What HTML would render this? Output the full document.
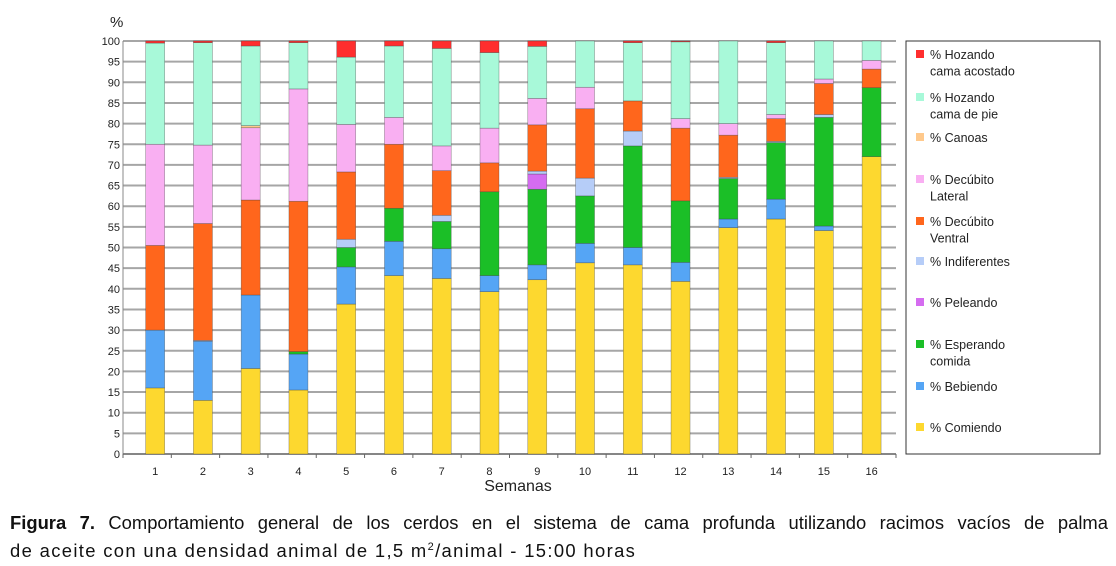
<!DOCTYPE html>
<html><head><meta charset="utf-8"><style>
body{margin:0;background:#fff;width:1116px;height:566px;overflow:hidden;font-family:"Liberation Sans",sans-serif}
.cap{position:absolute;left:10px;top:510px;width:1098px;font-size:18.4px;line-height:25px;color:#111}
.l1{text-align:justify;text-align-last:justify}
.l2{letter-spacing:1.35px}
</style></head><body>
<svg id="chart" width="1116" height="505" style="position:absolute;left:0;top:0" font-family="Liberation Sans, sans-serif"></svg>
<div class="cap"><div class="l1"><b>Figura 7.</b> Comportamiento general de los cerdos en el sistema de cama profunda utilizando racimos vacíos de palma</div><div class="l2">de aceite con una densidad animal de 1,5 m<sup style="font-size:11px">2</sup>/animal - 15:00 horas</div></div>
<script>
const categories=["1","2","3","4","5","6","7","8","9","10","11","12","13","14","15","16"];
const comiendo=[16,13,20.7,15.5,36.3,43.2,42.5,39.3,42.2,46.3,45.8,41.8,54.8,56.9,54.1,72];
const bebiendo=[14,14.3,17.8,8.7,9,8.3,7.2,3.9,3.6,4.7,4.2,4.6,2.1,4.8,1.1,0];
const esperando=[0,0,0,0.6,4.7,8,6.6,20.3,18.3,11.5,24.6,14.9,9.8,13.7,26.3,16.7];
const peleando=[0,0,0,0,0,0,0,0,3.7,0,0,0,0,0,0,0];
const indiferentes=[0,0.2,0,0,2,0,1.5,0,0.7,4.3,3.6,0,0.3,0.3,0.7,0];
const ventral=[20.5,28.3,23,36.4,16.3,15.5,10.8,7,11.2,16.8,7.3,17.6,10.2,5.5,7.5,4.5];
const lateral=[24.5,19,17.5,27.2,11.5,6.5,6,8.4,6.4,5.2,0,2.3,2.8,1,1.1,2.1];
const canoas=[0,0,0.5,0,0,0,0,0,0,0,0,0,0,0,0,0];
const pie=[24.5,24.8,19.3,11.2,16.3,17.3,23.6,18.3,12.6,11.2,14.1,18.6,20,17.4,9.2,4.7];
const acostado=[0.5,0.4,1.2,0.4,3.9,1.2,1.8,2.8,1.3,0,0.4,0.2,0,0.4,0,0];
const yTicks=[0,5,10,15,20,25,30,35,40,45,50,55,60,65,70,75,80,85,90,95,100];
const seriesNames=["% Comiendo","% Bebiendo","% Esperando comida","% Peleando","% Indiferentes","% Decúbito Ventral","% Decúbito Lateral","% Canoas","% Hozando cama de pie","% Hozando cama acostado"];
const seriesData=[comiendo,bebiendo,esperando,peleando,indiferentes,ventral,lateral,canoas,pie,acostado];
const colors=["#fdd82f","#55a5f5","#1bbf27","#d56cf0","#b6cdf8","#ff661c","#f9aff2","#ffc98c","#a8f9d9","#ff2e2e"];
const NS="http://www.w3.org/2000/svg",svg=document.getElementById('chart');
const X0=123,X1=896,Y0=454,Y1=41;
const y=v=>Y0-(v/100)*(Y0-Y1);
const band=(X1-X0)/categories.length;
const xc=i=>X0+band*(i+0.5)+8-i*0.55;
function mk(t,a,p){const e=document.createElementNS(NS,t);for(const k in a)e.setAttribute(k,a[k]);(p||svg).appendChild(e);return e;}
yTicks.forEach(t=>{
 const g=mk('line',{x1:X0,x2:X1,y1:y(t),y2:y(t),stroke:'#a6a6a6','stroke-width':2});
 
 
 const l=mk('text',{x:120,y:y(t)+4,'text-anchor':'end','font-size':11,fill:'#222'});
 l.textContent=t;
 
 
});
mk('line',{x1:X0,x2:X0,y1:Y1,y2:Y0,stroke:'#888'});
mk('line',{x1:X0,x2:X1,y1:Y0,y2:Y0,stroke:'#666'});
for(let i=0;i<=categories.length;i++)mk('line',{x1:X0+band*i,x2:X0+band*i,y1:Y0,y2:Y0+4,stroke:'#666'});
const yt=mk('text',{x:110,y:27,'font-size':15,fill:'#222'});yt.textContent='%';


categories.forEach((c,i)=>{
 let cum=0;const cx=xc(i);
 seriesData.forEach((s,k)=>{
  const v=s[i];if(v<=0)return;
  const top=Math.min(cum+v,100);
  const r=mk('rect',{x:cx-9.5,y:y(top),width:19,height:y(cum)-y(top),fill:colors[k],stroke:'rgba(60,60,60,0.5)','stroke-width':0.6});
  
  
  cum=top;
 });
 const t=mk('text',{x:cx,y:475,'text-anchor':'middle','font-size':11,fill:'#222'});
 t.textContent=c;
 
 
});
const xt=mk('text',{x:518,y:491,'text-anchor':'middle','font-size':16,fill:'#222'});xt.textContent='Semanas';


const lb=mk('rect',{x:906,y:41,width:194,height:413,fill:'#fff',stroke:'#333','stroke-width':1});


const legY=[55,98,138,180,222,262,303,345,387,428];
const legLines=[["% Hozando","cama acostado"],["% Hozando","cama de pie"],["% Canoas"],["% Decúbito","Lateral"],["% Decúbito","Ventral"],["% Indiferentes"],["% Peleando"],["% Esperando","comida"],["% Bebiendo"],["% Comiendo"]];
for(let j=0;j<10;j++){
 const k=9-j;
 const sw=mk('rect',{x:916,y:legY[j]-5,width:8,height:8,fill:colors[k]});
 
 
 legLines[j].forEach((ln,m)=>{
  const t=mk('text',{x:930,y:legY[j]+4+m*16.5,'font-size':12.5,fill:'#222'});
  t.textContent=ln;
  
  
 });
}
</script>
</body></html>
